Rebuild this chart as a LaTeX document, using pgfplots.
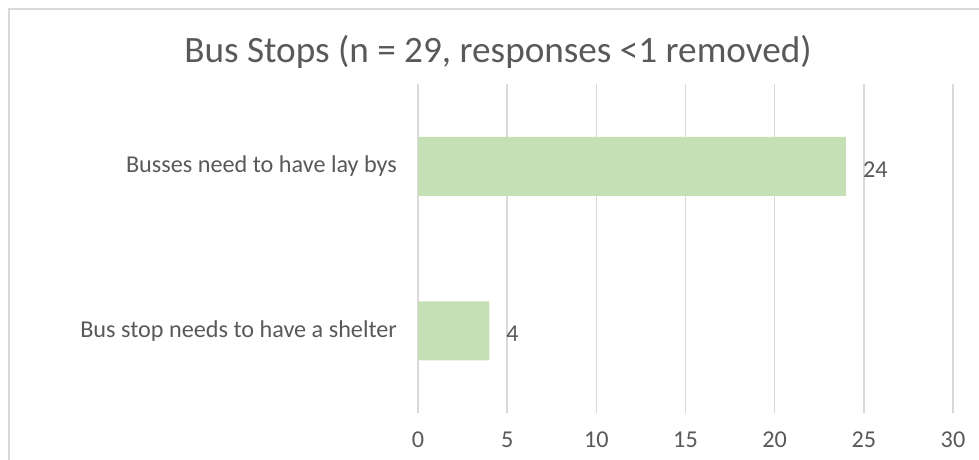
\documentclass[border=0pt]{standalone}
\usepackage{pgfplots}
\pgfplotsset{compat=1.18}
\usepackage{fontspec}
\setmainfont{Carlito}
\definecolor{txt}{HTML}{595959}
\definecolor{grd}{HTML}{D9D9D9}
\definecolor{bar}{HTML}{C5E0B4}
\begin{document}
\begin{tikzpicture}
\path[use as bounding box] (0,0) rectangle (489.5pt,-230pt);
\begin{scope}
\clip (0,0) rectangle (489.5pt,-230pt);
\draw[grd, line width=1pt] (4.5pt,-4.5pt) rectangle (520pt,-260pt);
\end{scope}
\node[txt, font=\fontsize{18.6}{22}\selectfont] at (249pt,-26pt) {Bus Stops (n = 29, responses <1 removed)};
\begin{axis}[
  at={(209pt,-206.5pt)}, anchor=south west,
  scale only axis, width=267.5pt, height=164.5pt,
  xbar, bar width=29.5pt,
  xmin=0, xmax=30, ymin=-0.5, ymax=1.5,
  xtick={0,5,...,30}, ytick={0,1},
  yticklabels={Bus stop needs to have a shelter, Busses need to have lay bys},
  xmajorgrids, grid style={grd, line width=0.75pt},
  axis line style={draw=none},
  major tick length=0pt,
  tick label style={txt, font=\fontsize{12.1}{14}\selectfont},
  /pgf/number format/assume math mode=true,
  xticklabel style={yshift=-6pt},
  yticklabel style={xshift=-7pt},
  nodes near coords,
  nodes near coords style={txt, font=\fontsize{12.1}{14}\selectfont, anchor=west, xshift=5pt, yshift=-1.5pt},
]
\addplot[fill=bar, draw=none] coordinates {(4,0) (24,1)};
\end{axis}
\end{tikzpicture}
\end{document}
